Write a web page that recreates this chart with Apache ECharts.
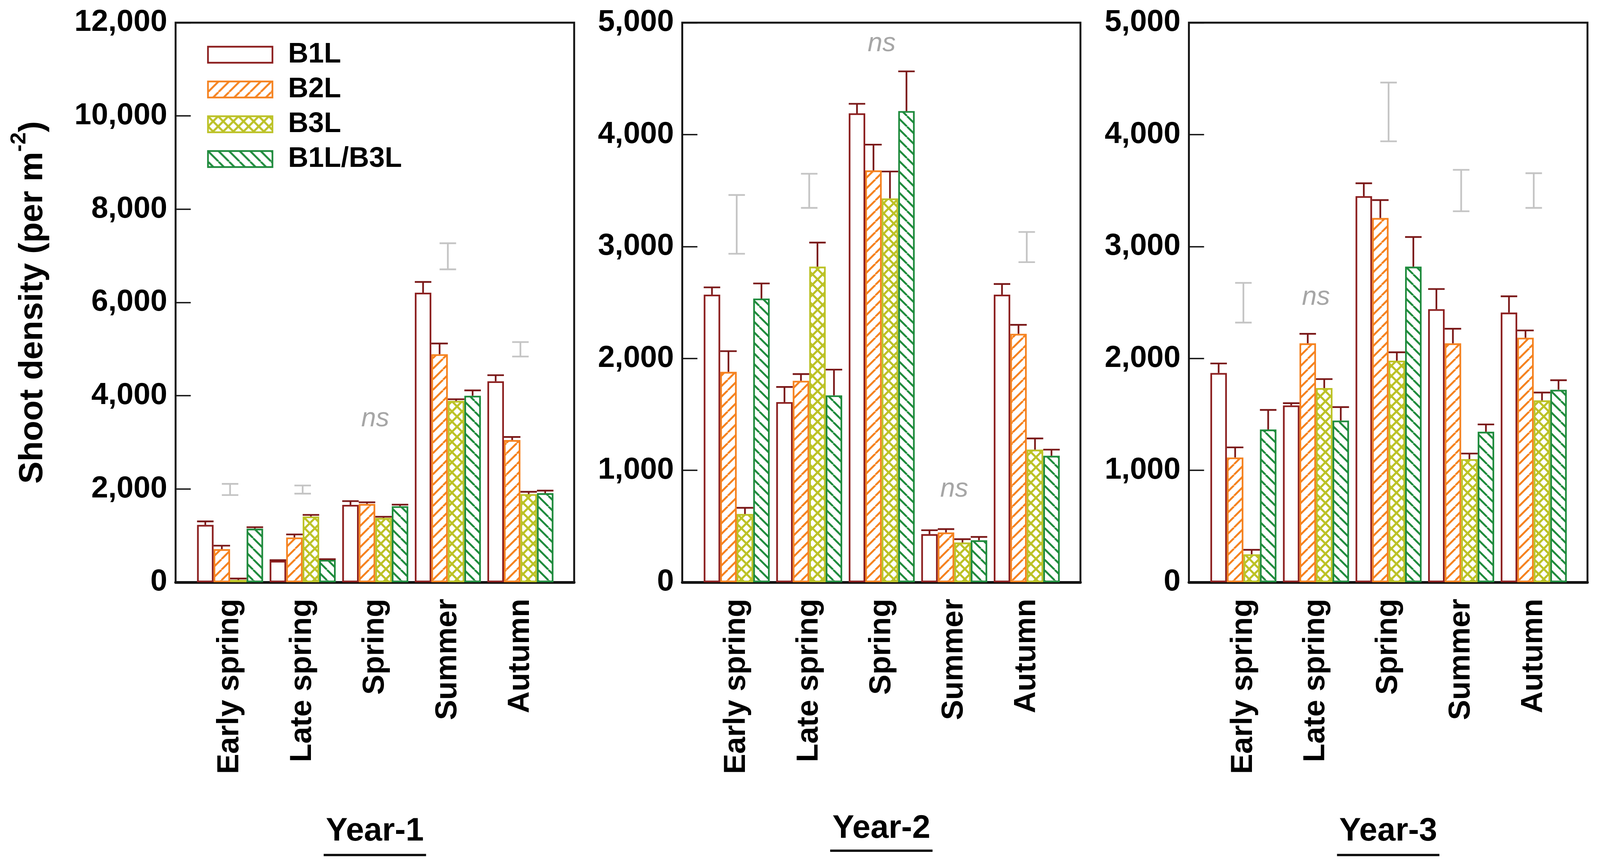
<!DOCTYPE html>
<html>
<head>
<meta charset="utf-8">
<script src="https://cdn.jsdelivr.net/npm/echarts@6/dist/echarts.min.js"></script>
<style>
html,body{margin:0;padding:0;background:#ffffff;overflow:hidden;width:100%;height:100%;}
#chart{position:absolute;left:0;top:0;width:100vw;height:100vh;}
</style>
</head>
<body>
<div id="chart"></div>
<script>
// ---------------- DATA ----------------
const categories = ['Early spring', 'Late spring', 'Spring', 'Summer', 'Autumn'];
const seriesNames = ['B1L', 'B2L', 'B3L', 'B1L/B3L'];
const yearLabels = ['Year-1', 'Year-2', 'Year-3'];
const yMax = [12000, 5000, 5000];
const yStep = [2000, 1000, 1000];

// Year-1
const y1_B1L = [1230, 460, 1660, 6210, 4310];
const y1_B1L_se = [75, 15, 80, 230, 130];
const y1_B2L = [710, 960, 1680, 4890, 3050];
const y1_B2L_se = [75, 65, 35, 230, 65];
const y1_B3L = [50, 1410, 1380, 3890, 1890];
const y1_B3L_se = [30, 35, 25, 35, 50];
const y1_B1LB3L = [1150, 480, 1630, 4000, 1910];
const y1_B1LB3L_se = [30, 15, 35, 115, 55];
const y1_lsdLow = [1870, 1900, null, 6710, 4840];
const y1_lsdHigh = [2110, 2075, null, 7270, 5150];
const y1_ns = [null, null, 3500, null, null];

// Year-2
const y2_B1L = [2570, 1610, 4190, 430, 2570];
const y2_B1L_se = [65, 135, 85, 35, 95];
const y2_B2L = [1880, 1800, 3680, 445, 2220];
const y2_B2L_se = [185, 60, 230, 30, 80];
const y2_B3L = [610, 2820, 3430, 355, 1185];
const y2_B3L_se = [55, 215, 240, 30, 100];
const y2_B1LB3L = [2535, 1670, 4210, 375, 1130];
const y2_B1LB3L_se = [135, 230, 355, 30, 55];
const y2_lsdLow = [2935, 3345, null, null, 2860];
const y2_lsdHigh = [3460, 3650, null, null, 3130];
const y2_ns = [null, null, 4810, 830, null];

// Year-3
const y3_B1L = [1870, 1580, 3450, 2440, 2410];
const y3_B1L_se = [85, 20, 115, 180, 145];
const y3_B2L = [1115, 2135, 3255, 2135, 2185];
const y3_B2L_se = [90, 85, 160, 130, 65];
const y3_B3L = [250, 1735, 1980, 1100, 1625];
const y3_B3L_se = [40, 80, 75, 50, 70];
const y3_B1LB3L = [1365, 1445, 2820, 1345, 1720];
const y3_B1LB3L_se = [175, 120, 265, 65, 85];
const y3_lsdLow = [2320, null, 3940, 3315, 3345];
const y3_lsdHigh = [2675, null, 4465, 3685, 3655];
const y3_ns = [null, 2545, null, null, null];

// ---------------- STYLE / LAYOUT ----------------
const el = document.getElementById('chart');
const W = el.clientWidth || 4219, H = el.clientHeight || 2211;
const SX = W / 4219, SY = H / 2211, SF = Math.min(SX, SY);
const X = v => v * SX, Y = v => v * SY, F = v => v * SF;

const FONT = "'Liberation Sans', Arial, Helvetica, sans-serif";
const C_MAROON = '#8C1F1F';
const C_ERR = '#7A1818';
const C_ORANGE = '#F5821F';
const C_YG = '#BCC226';
const C_GREEN = '#1F8B3D';
const C_LSD = '#C4C4C4';
const C_NS = '#A6A6A6';

const frames = [
  {left: 463, width: 1051},
  {left: 1799, width: 1050},
  {left: 3135, width: 1051}
];
const TOP = 58, HEIGHT = 1432;
const PAD_L = 48, PAD_R = 46;
const CAT_GAP = 0.09;
const yearTextY = [2128, 2121, 2128];
const yearLineY = [2188, 2177, 2188];

function makePattern(color, kind, s, lw) {
  const c = document.createElement('canvas');
  c.width = s; c.height = s;
  const g = c.getContext('2d');
  g.fillStyle = '#ffffff';
  g.fillRect(0, 0, s, s);
  g.strokeStyle = color;
  g.lineWidth = lw;
  for (const k of [-1, 0, 1]) {
    if (kind === '/' || kind === 'x') {
      g.beginPath(); g.moveTo(k * s, s); g.lineTo(k * s + s, 0); g.stroke();
    }
    if (kind === '\\' || kind === 'x') {
      g.beginPath(); g.moveTo(k * s, 0); g.lineTo(k * s + s, s); g.stroke();
    }
  }
  return {image: c, repeat: 'repeat'};
}

const fills = ['#ffffff',
  makePattern(C_ORANGE, '/', Math.round(F(28)), F(5)),
  makePattern(C_YG, 'x', Math.round(F(27)), F(5.5)),
  makePattern(C_GREEN, '\\', Math.round(F(28)), F(5))];
const borders = [C_MAROON, C_ORANGE, C_YG, C_GREEN];

const years = [
  {means: [y1_B1L, y1_B2L, y1_B3L, y1_B1LB3L], se: [y1_B1L_se, y1_B2L_se, y1_B3L_se, y1_B1LB3L_se], lo: y1_lsdLow, hi: y1_lsdHigh, ns: y1_ns},
  {means: [y2_B1L, y2_B2L, y2_B3L, y2_B1LB3L], se: [y2_B1L_se, y2_B2L_se, y2_B3L_se, y2_B1LB3L_se], lo: y2_lsdLow, hi: y2_lsdHigh, ns: y2_ns},
  {means: [y3_B1L, y3_B2L, y3_B3L, y3_B1LB3L], se: [y3_B1L_se, y3_B2L_se, y3_B3L_se, y3_B1LB3L_se], lo: y3_lsdLow, hi: y3_lsdHigh, ns: y3_ns}
];

const grid = [], xAxis = [], yAxis = [], series = [], graphic = [];

years.forEach((yr, i) => {
  const f = frames[i];
  grid.push({left: X(f.left), top: Y(TOP), width: X(f.width), height: Y(HEIGHT), show: true,
    borderColor: '#141414', borderWidth: F(5), backgroundColor: 'rgba(0,0,0,0)', containLabel: false});
  grid.push({left: X(f.left + PAD_L), top: Y(TOP), width: X(f.width - PAD_L - PAD_R), height: Y(HEIGHT), containLabel: false});

  xAxis.push({gridIndex: 2 * i, type: 'value', min: 0, max: 1,
    axisLine: {show: true, onZero: false, lineStyle: {color: '#141414', width: F(7)}},
    axisTick: {show: false}, axisLabel: {show: false}, splitLine: {show: false}});
  xAxis.push({gridIndex: 2 * i + 1, type: 'category', data: categories,
    axisLine: {show: false}, axisTick: {show: false}, splitLine: {show: false},
    axisLabel: {interval: 0, rotate: 90, margin: Y(42), fontSize: F(80), fontWeight: 'bold', color: '#000', fontFamily: FONT}});

  const yFrame = {gridIndex: 2 * i, type: 'value', min: 0, max: yMax[i], interval: yStep[i],
    axisLine: {show: false},
    axisTick: {show: true, inside: true, length: X(40), lineStyle: {color: '#141414', width: F(3.5)}},
    splitLine: {show: false},
    axisLabel: {margin: X(22), fontSize: F(80), fontWeight: 'bold', color: '#000', fontFamily: FONT,
      formatter: v => v.toLocaleString('en-US')}};
  if (i === 0) {
    yFrame.name = '{a|Shoot density (per m}{s|-2}{a|)}';
    yFrame.nameLocation = 'middle';
    yFrame.nameRotate = 90;
    yFrame.nameGap = X(311);
    yFrame.nameTextStyle = {
      fontSize: F(88), fontWeight: 'bold', color: '#000', fontFamily: FONT, lineHeight: F(130),
      rich: {
        a: {fontSize: F(88), fontWeight: 'bold', color: '#000', fontFamily: FONT, lineHeight: F(130)},
        s: {fontSize: F(58), fontWeight: 'bold', color: '#000', fontFamily: FONT, lineHeight: F(60), verticalAlign: 'top'}
      }
    };
  }
  yAxis.push(yFrame);
  yAxis.push({gridIndex: 2 * i + 1, type: 'value', min: 0, max: yMax[i], interval: yStep[i], show: false});

  yr.means.forEach((m, j) => {
    series.push({type: 'bar', name: seriesNames[j], xAxisIndex: 2 * i + 1, yAxisIndex: 2 * i + 1,
      data: m, barGap: '0%', barCategoryGap: (CAT_GAP * 100) + '%', silent: true,
      itemStyle: {color: fills[j], borderColor: borders[j], borderWidth: F(4.5)}, z: 2});
  });

  yr.means.forEach((m, j) => {
    series.push({type: 'custom', name: 'err-' + i + '-' + j, xAxisIndex: 2 * i + 1, yAxisIndex: 2 * i + 1,
      silent: true, z: 4, encode: {x: 0, y: [1, 2]},
      data: m.map((v, k) => [k, v, v + yr.se[j][k]]),
      renderItem: (params, api) => {
        const k = api.value(0);
        const base = api.coord([k, api.value(1)]);
        const top = api.coord([k, api.value(2)]);
        const band = api.size([1, 0])[0];
        const gw = band * (1 - CAT_GAP);
        const bw = gw / 4;
        const cx = base[0] - gw / 2 + bw * (j + 0.5);
        const st = {stroke: C_ERR, lineWidth: F(4.5)};
        return {type: 'group', children: [
          {type: 'line', shape: {x1: cx, y1: base[1], x2: cx, y2: top[1]}, style: st},
          {type: 'line', shape: {x1: cx - bw / 2, y1: top[1], x2: cx + bw / 2, y2: top[1]}, style: st}
        ]};
      }});
  });

  const lsdData = [];
  yr.lo.forEach((lo, k) => { if (lo != null) lsdData.push([k, lo, yr.hi[k]]); });
  series.push({type: 'custom', name: 'lsd-' + i, xAxisIndex: 2 * i + 1, yAxisIndex: 2 * i + 1,
    silent: true, z: 4, encode: {x: 0, y: [1, 2]}, data: lsdData,
    renderItem: (params, api) => {
      const k = api.value(0);
      const a = api.coord([k, api.value(1)]);
      const b = api.coord([k, api.value(2)]);
      const band = api.size([1, 0])[0];
      const hw = band * (1 - CAT_GAP) / 8;
      const st = {stroke: C_LSD, lineWidth: F(4.5)};
      return {type: 'group', children: [
        {type: 'line', shape: {x1: a[0], y1: a[1], x2: b[0], y2: b[1]}, style: st},
        {type: 'line', shape: {x1: a[0] - hw, y1: a[1], x2: a[0] + hw, y2: a[1]}, style: st},
        {type: 'line', shape: {x1: b[0] - hw, y1: b[1], x2: b[0] + hw, y2: b[1]}, style: st}
      ]};
    }});

  const nsData = [];
  yr.ns.forEach((v, k) => { if (v != null) nsData.push([k, v]); });
  series.push({type: 'custom', name: 'ns-' + i, xAxisIndex: 2 * i + 1, yAxisIndex: 2 * i + 1,
    silent: true, z: 4, encode: {x: 0, y: 1}, data: nsData,
    renderItem: (params, api) => {
      const p = api.coord([api.value(0), api.value(1)]);
      return {type: 'text', x: p[0], y: p[1], style: {text: 'ns', fill: C_NS, fontSize: F(70),
        fontStyle: 'italic', fontFamily: FONT, align: 'center', verticalAlign: 'middle'}};
    }});

  const cx = X(f.left + f.width / 2);
  graphic.push({type: 'text', x: cx, y: Y(yearTextY[i]), silent: true,
    style: {text: yearLabels[i], fontSize: F(86), fontWeight: 'bold', fontFamily: FONT, fill: '#000',
      align: 'center', verticalAlign: 'middle'}});
  graphic.push({type: 'line', silent: true, shape: {x1: cx - X(135), y1: Y(yearLineY[i]), x2: cx + X(135), y2: Y(yearLineY[i])},
    style: {stroke: '#111', lineWidth: F(6)}});
});

const chart = echarts.init(el, null, {renderer: 'canvas', width: W, height: H});
chart.setOption({
  animation: false,
  backgroundColor: '#ffffff',
  textStyle: {fontFamily: FONT},
  legend: {
    data: seriesNames, orient: 'vertical', left: X(541), top: Y(99),
    icon: 'rect', itemWidth: X(170), itemHeight: Y(41), itemGap: Y(17),
    itemStyle: {borderWidth: F(4.5)},
    selectedMode: false,
    textStyle: {fontSize: F(74), fontWeight: 'bold', color: '#000', fontFamily: FONT, padding: [0, 0, 0, X(36)]}
  },
  grid, xAxis, yAxis, series, graphic
});
</script>
</body>
</html>
